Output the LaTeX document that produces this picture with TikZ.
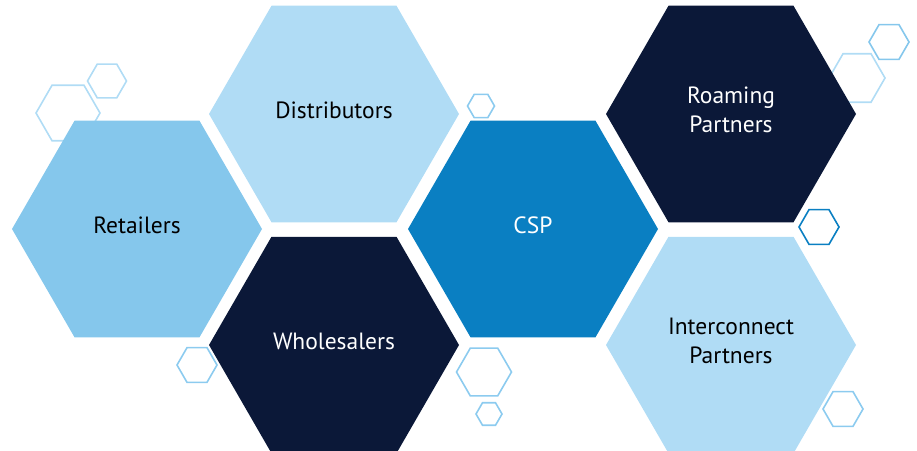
\documentclass[tikz,border=0pt]{standalone}
\usepackage{fontspec}
\setmainfont{PT Sans}
\usepackage{xcolor}
\usetikzlibrary{shapes,positioning}

\definecolor{paleblue}{HTML}{B0DCF5}
\definecolor{skyblue}{HTML}{85C7EC}
\definecolor{ringblue}{HTML}{8CCBEF}
\definecolor{cspblue}{HTML}{0A7FC2}
\definecolor{deepnavy}{HTML}{0B1838}

\begin{document}
\begin{tikzpicture}[
        x=1pt, y=-1pt,
        bighex/.style={
            regular polygon,
            regular polygon sides=6,
            minimum size=250pt,
            inner sep=0pt,
            align=center,
            text depth=8pt,
            font=\fontsize{23.5}{29}\selectfont
            },
        ringhex/.style={
            regular polygon,
            regular polygon sides=6,
            inner sep=0pt,
            line width=1.6pt
            }
    ]
                \useasboundingbox (0,0) rectangle (917,450);

                % small outlined hexagons, behind the big ones
                \node[ringhex, draw=paleblue, minimum size=64pt] (ringA) at (68,113) {};
                \node[ringhex, draw=paleblue, minimum size=39pt] (ringB) at (107,81) {};
                \node[ringhex, draw=ringblue, minimum size=27pt] (ringC) at (481,106) {};
                \node[ringhex, draw=skyblue, minimum size=40pt] (ringD) at (889,42) {};
                \node[ringhex, draw=paleblue, minimum size=56pt] (ringE) at (857,78) {};
                \node[ringhex, draw=cspblue, minimum size=40pt] (ringF) at (819,227) {};
                \node[ringhex, draw=ringblue, minimum size=40pt] (ringG) at (197,365) {};
                \node[ringhex, draw=ringblue, minimum size=55pt] (ringH) at (484,372) {};
                \node[ringhex, draw=ringblue, minimum size=26pt] (ringI) at (489,414) {};
                \node[ringhex, draw=ringblue, minimum size=40pt] (ringJ) at (843,409) {};

                % the honeycomb
                \node[
                    bighex,
                    fill=skyblue
                    ] (retailers) at (137,229) {Retailers};

                \node[
                    bighex,
                    fill=paleblue
                    ] (distributors) at (334,114) {Distributors};

                \node[
                    bighex,
                    fill=deepnavy,
                    text=white
                    ] (wholesalers) at (334,345) {Wholesalers};

                \node[
                    bighex,
                    fill=cspblue,
                    text=white
                    ] (csp) at (533,229) {CSP};

                \node[
                    bighex,
                    fill=deepnavy,
                    text=white
                    ] (roaming) at (731,114) {Roaming\\Partners};

                \node[
                    bighex,
                    fill=paleblue
                    ] (interconnect) at (731,345) {Interconnect\\Partners};

\end{tikzpicture}
\end{document}
